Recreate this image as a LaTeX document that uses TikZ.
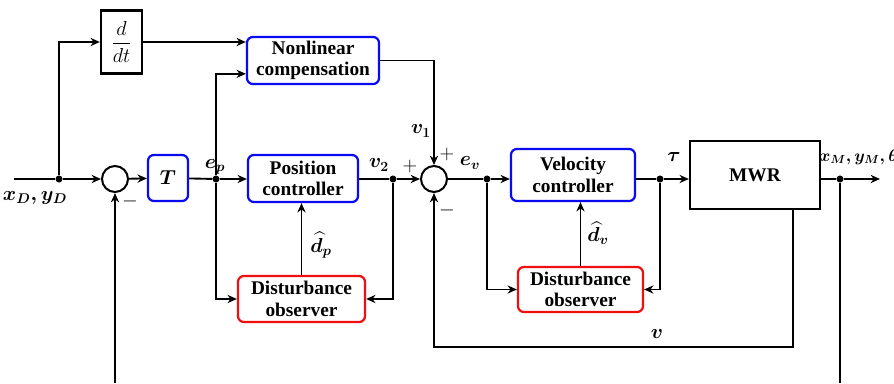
\documentclass[tikz,border=0pt]{standalone}
\usepackage{amsmath}
\usepackage{fontspec}
\setmainfont{Liberation Serif}
\usetikzlibrary{arrows.meta,positioning}
\definecolor{ctrlblue}{RGB}{10,10,240}
\definecolor{obsred}{RGB}{240,15,15}
\newcommand{\bs}[1]{\boldsymbol{#1}}

\begin{document}
\begin{tikzpicture}[
  x=0.03cm, y=-0.03cm,
  box/.style={draw=ctrlblue, line width=1.9pt, rounded corners=5pt, align=center,
              inner sep=2pt, font=\fontsize{16.5}{18.5}\selectfont\bfseries},
  obs/.style={box, draw=obsred},
  plainbox/.style={draw, line width=1.9pt, align=center, font=\fontsize{16.5}{18.5}\selectfont\bfseries},
  sum/.style={draw, circle, line width=1.7pt, minimum size=0.78cm, inner sep=0pt},
  dot/.style={circle, fill, inner sep=0pt, minimum size=6pt},
  ln/.style={line width=1.6pt},
  arr/.style={-{Stealth[length=8pt,width=7pt]}, line width=1.6pt},
  lbl/.style={font=\LARGE, inner sep=1pt}
]
  \useasboundingbox (0,0) rectangle (894,383);

  % blocks
  \node[plainbox, minimum width=1.23cm, minimum height=1.89cm,
        font=\LARGE] (ddt) at (121.5,42) {$\dfrac{d}{dt}$};
  \node[box, minimum width=3.96cm, minimum height=1.41cm] (nlc) at (313,60.5) {Nonlinear\\compensation};
  \node[sum] (sum1) at (115,179) {};
  \node[box, minimum width=1.2cm, minimum height=1.38cm] (tbox) at (168,178) {$\bs{T}$};
  \node[box, minimum width=3.3cm, minimum height=1.41cm] (pc) at (303,178.5) {Position\\controller};
  \node[obs, minimum width=3.81cm, minimum height=1.38cm] (do1) at (301.5,299) {Disturbance\\observer};
  \node[sum] (sum2) at (434,179) {};
  \node[box, minimum width=3.72cm, minimum height=1.56cm] (vc) at (573,175) {Velocity\\controller};
  \node[obs, minimum width=3.75cm, minimum height=1.35cm] (do2) at (580.5,289.5) {Disturbance\\observer};
  \node[plainbox, minimum width=3.9cm, minimum height=2.04cm] (mwr) at (755,175) {MWR};

  % branch points
  \node[dot] (jin)  at (59,179)  {};
  \node[dot] (jep)  at (216,179) {};
  \node[dot] (jv2)  at (393,179) {};
  \node[dot] (jev)  at (487,179) {};
  \node[dot] (jtau) at (660,179) {};
  \node[dot] (jout) at (840,179) {};
  \coordinate (src)  at (14,179);
  \coordinate (sink) at (880,179);
  \coordinate (bot)  at (0,383);
  \coordinate (vbot) at (434,347);

  % signal lines
  \draw[ln]  (src) -- (jin);
  \draw[arr] (jin) -- (sum1);
  \draw[arr] (jin) |- (ddt.west);
  \draw[arr] (ddt.east) -- (ddt.east -| nlc.west);
  \draw[arr] (sum1) -- (tbox);
  \draw[ln]  (tbox) -- (jep);
  \draw[arr] (jep) -- (pc.west |- jep);
  \draw[arr] (jep) |- ([yshift=-0.4cm]nlc.west);
  \draw[arr] (jep) |- (do1.west);
  \draw[arr] (do1.north) -- (do1.north |- pc.south);
  \draw[ln]  (pc.east |- jv2) -- (jv2);
  \draw[arr] (jv2) -- (sum2);
  \draw[arr] (jv2) |- (do1.east);
  \draw[arr] (nlc.east) -| (sum2.north);
  \draw[ln]  (sum2) -- (jev);
  \draw[arr] (jev) -- (jev -| vc.west);
  \draw[arr] (jev) |- (do2.west);
  \draw[arr] (do2.north) -- (do2.north |- vc.south);
  \draw[ln]  (vc.east |- jtau) -- (jtau);
  \draw[arr] (jtau) -- (jtau -| mwr.west);
  \draw[arr] (jtau) |- (do2.east);
  \draw[ln]  (mwr.east |- jout) -- (jout);
  \draw[arr] (jout) -- (sink);
  \draw[ln]  (jout) -- (jout |- bot);
  \draw[arr] (sum1 |- bot) -- (sum1.south);
  \draw[arr] ([xshift=1.14cm]mwr.south) |- (vbot) -- (sum2.south);

  % labels
  \node[lbl] (lxd)  at (35,198)  {$\bs{x_D, y_D}$};
  \node[lbl] (lep)  at (215,167) {$\bs{e_p}$};
  \node[lbl] (lv2)  at (379,165) {$\bs{v_2}$};
  \node[lbl] (lp2)  at (410,166) {$+$};
  \node[lbl] (lv1)  at (421,131) {$\bs{v_1}$};
  \node[lbl] (lp1)  at (447,154) {$+$};
  \node[lbl] (lm2)  at (447,210) {$-$};
  \node[lbl] (lm1)  at (130,201) {$-$};
  \node[lbl] (lev)  at (470,163) {$\bs{e_v}$};
  \node[lbl] (ltau) at (674,157) {$\bs{\tau}$};
  \node[lbl, anchor=west, font=\Large] (lout) at (818,157) {$\bs{x_M, y_M, \theta}$};
  \node[lbl] (ldp)  at (321,245) {$\bs{\widehat{d}_p}$};
  \node[lbl] (ldv)  at (598,233) {$\bs{\widehat{d}_v}$};
  \node[lbl] (lv)   at (657,334) {$\bs{v}$};
\end{tikzpicture}
\end{document}
